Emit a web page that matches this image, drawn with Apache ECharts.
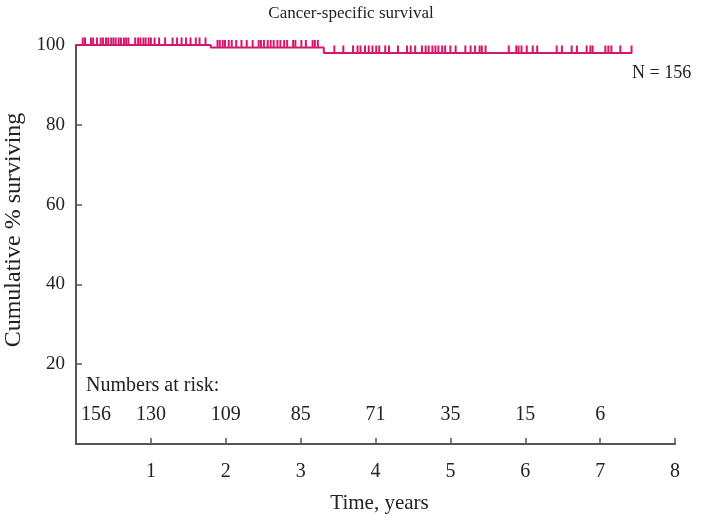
<!DOCTYPE html>
<html><head><meta charset="utf-8">
<script src="https://cdn.jsdelivr.net/npm/echarts@6/dist/echarts.min.js"></script>
<style>html,body{margin:0;padding:0;background:#fff}#c{width:702px;height:516px}</style>
</head><body><div id="c"></div><script>
// Kaplan-Meier step curve (time in years, % surviving)
const stepTimes = [0, 1.8, 3.31, 7.43];
const stepSurvival = [100, 99.4, 98.0, 98.0];
// censoring times (years)
const censorTimes = [0.09,0.12,0.2,0.23,0.28,0.33,0.36,0.4,0.43,0.47,0.5,0.53,0.57,0.6,0.64,0.67,0.7,0.79,0.83,0.86,0.9,0.93,0.97,1.0,1.05,1.11,1.19,1.29,1.35,1.41,1.47,1.53,1.6,1.65,1.73,
  1.89,1.92,1.96,1.99,2.04,2.08,2.14,2.21,2.28,2.36,2.44,2.47,2.51,2.56,2.6,2.64,2.69,2.73,2.78,2.82,2.9,2.93,3.01,3.07,3.16,3.19,3.23,
  3.45,3.57,3.7,3.76,3.8,3.86,3.91,3.96,4.01,4.05,4.13,4.18,4.3,4.42,4.47,4.53,4.62,4.67,4.71,4.76,4.8,4.84,4.89,4.93,5.0,5.07,5.2,5.27,5.33,5.39,5.42,5.47,
  5.78,5.88,5.91,5.95,6.02,6.1,6.16,6.42,6.49,6.62,6.69,6.82,6.87,6.9,7.07,7.11,7.15,7.27,7.42];
// numbers at risk
const riskTimes = [0,1,2,3,4,5,6,7];
const riskCounts = [156,130,109,85,71,35,15,6];
const riskRowY = 7.4;

const FONT = 'Liberation Serif';
const TXT = '#222';
const PINK = '#d6176b';
const AX = '#555';

function survAt(t){
  let s = stepSurvival[0];
  for (let i = 1; i < stepTimes.length; i++) if (t >= stepTimes[i]) s = stepSurvival[i];
  return s;
}

const chart = echarts.init(document.getElementById('c'));
chart.setOption({
  animation: false,
  backgroundColor: '#fff',
  title: { text: 'Cancer-specific survival', left: 'center', top: 0,
    textStyle: { fontFamily: FONT, fontSize: 17, fontWeight: 'normal', color: TXT } },
  grid: { left: 76, right: 27, top: 45, bottom: 72, containLabel: false, outerBoundsMode: 'none' },
  xAxis: {
    type: 'value', min: 0, max: 8, interval: 1,
    name: 'Time, years', nameLocation: 'middle', nameGap: 49,
    nameTextStyle: { fontFamily: FONT, fontSize: 21, color: TXT, padding: [0, 0, 0, 8] },
    axisLine: { lineStyle: { color: AX, width: 2 } },
    axisTick: { inside: true, length: 6, lineStyle: { color: AX, width: 1.5 } },
    splitLine: { show: false },
    axisLabel: { fontFamily: FONT, fontSize: 20, color: TXT, margin: 18,
      formatter: v => v === 0 ? '' : String(v) }
  },
  yAxis: {
    type: 'value', min: 0, max: 100, interval: 20,
    axisLine: { show: true, lineStyle: { color: AX, width: 2 } },
    axisTick: { show: true, inside: true, length: 6, lineStyle: { color: AX, width: 1.5 } },
    splitLine: { show: false },
    axisLabel: { fontFamily: FONT, fontSize: 19, color: TXT, margin: 11,
      formatter: v => v === 0 ? '' : String(v) }
  },
  graphic: [
    { type: 'text', x: 14, y: 230, rotation: Math.PI / 2,
      style: { text: 'Cumulative % surviving', fontFamily: FONT, fontSize: 24, fill: TXT,
        align: 'center', verticalAlign: 'middle' } },
    { type: 'text', left: 86, top: 376, style: { text: 'Numbers at risk:', fontFamily: FONT, fontSize: 20, fill: TXT } },
    { type: 'text', left: 632, top: 64, style: { text: 'N = 156', fontFamily: FONT, fontSize: 18, fill: TXT } }
  ],
  series: [
    { type: 'line', step: 'end', symbol: 'none', z: 3,
      lineStyle: { color: PINK, width: 2 },
      data: stepTimes.map((t, i) => [t, stepSurvival[i]]) },
    { type: 'scatter', z: 4, symbol: 'rect', symbolSize: [2, 7], symbolOffset: [0, -4],
      itemStyle: { color: PINK, opacity: 1 },
      data: censorTimes.map(t => [t, survAt(t)]) },
    { type: 'scatter', symbolSize: 1, itemStyle: { color: 'rgba(0,0,0,0)', opacity: 1 },
      label: { show: true, position: 'inside', fontFamily: FONT, fontSize: 20, color: TXT,
        formatter: p => String(riskCounts[p.dataIndex]) },
      data: riskTimes.map((t, i) => i === 0
        ? { value: [t, riskRowY], label: { offset: [20, 0] } }
        : [t, riskRowY]) }
  ]
});
</script></body></html>
